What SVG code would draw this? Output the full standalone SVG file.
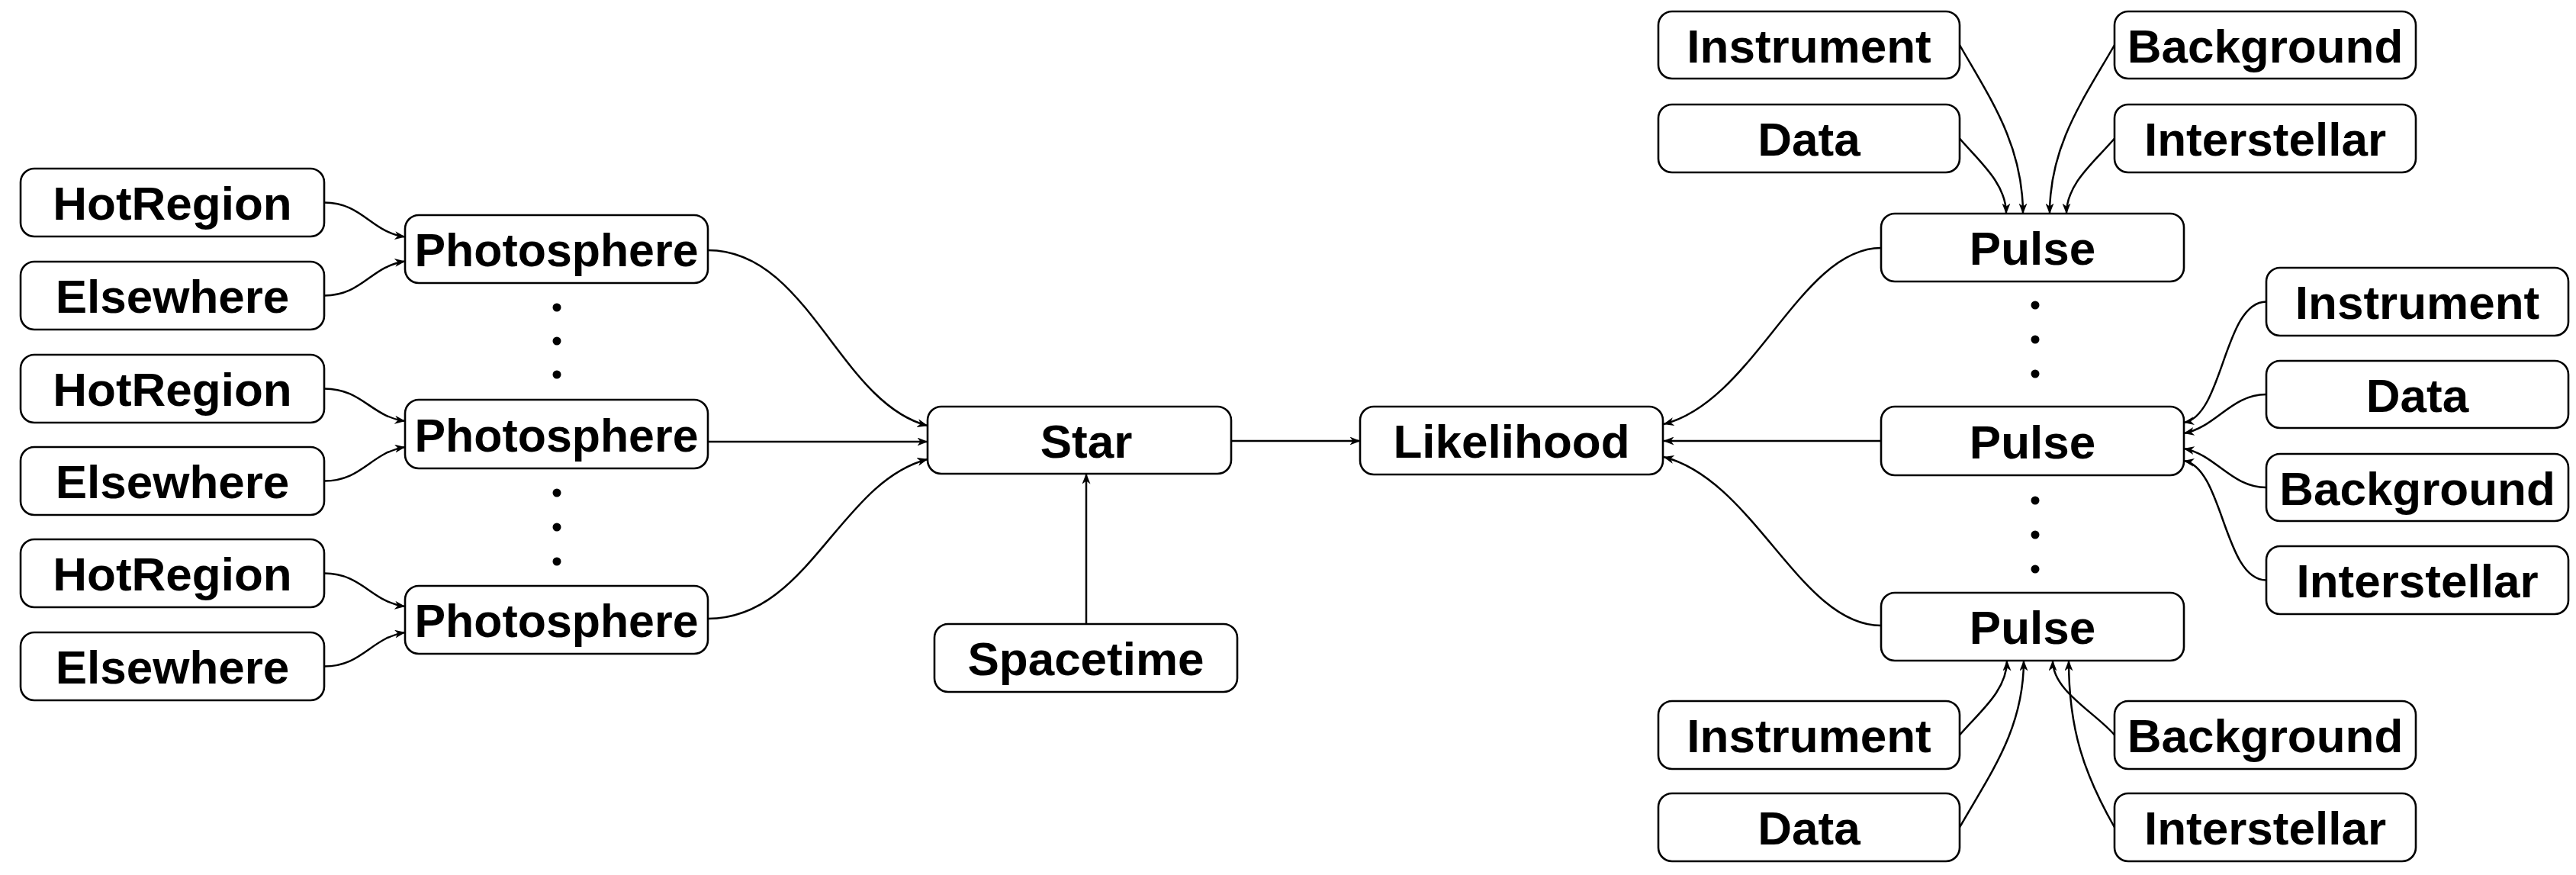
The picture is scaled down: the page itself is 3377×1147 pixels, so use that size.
<svg xmlns="http://www.w3.org/2000/svg" width="3377" height="1147" viewBox="0 0 3377 1147">
<defs>
<style>
.box{fill:#fff;stroke:#000;stroke-width:2.6}
.lbl{font-family:"Liberation Sans",Arial,Helvetica,sans-serif;font-weight:bold;font-size:62px;fill:#000;text-anchor:middle}
.c{fill:none;stroke:#000;stroke-width:2.5;marker-end:url(#arr)}
.dot{fill:#000}
</style>
<marker id="arr" markerUnits="userSpaceOnUse" viewBox="0 0 14 11" markerWidth="14" markerHeight="11" refX="13.5" refY="5.5" orient="auto">
<path d="M0,0 L14,5.5 L0,11 L4,5.5 z" fill="#000"/>
</marker>
</defs>
<rect width="3377" height="1147" fill="#fff"/>
<g id="connectors">
<path class="c" d="M425,265.5 C475,265.5 486,304 531,310.5"/>
<path class="c" d="M425,387.5 C475,387.5 486,349 531,342.5"/>
<path class="c" d="M425,509.5 C475,509.5 486,546 531,552"/>
<path class="c" d="M425,630.5 C475,630.5 486,593 531,586"/>
<path class="c" d="M425,751.5 C475,751.5 486,789 531,795"/>
<path class="c" d="M425,873.5 C475,873.5 486,836 531,829"/>
<path class="c" d="M928,328 C1060,328 1100,528 1216,558"/>
<path class="c" d="M928,579 L1216,579"/>
<path class="c" d="M928,811 C1060,811 1100,632 1216,602"/>
<path class="c" d="M1424,818 L1424,621"/>
<path class="c" d="M1614,578 L1783,578"/>
<path class="c" d="M2466,325 C2360,325 2300,526 2181,556"/>
<path class="c" d="M2466,578 L2181,578"/>
<path class="c" d="M2466,820 C2360,820 2300,629 2181,599"/>
<path class="c" d="M2569,59 C2609,129 2652,190 2652,280"/>
<path class="c" d="M2569,181.5 C2594,211 2630,240 2630,280"/>
<path class="c" d="M2772,59 C2732,129 2687,190 2687,280"/>
<path class="c" d="M2772,181.5 C2747,211 2709,240 2709,280"/>
<path class="c" d="M2971,395.5 C2915,395.5 2915,545 2863,554"/>
<path class="c" d="M2971,517 C2925,517 2905,560 2863,568"/>
<path class="c" d="M2971,639 C2925,639 2905,596 2863,588"/>
<path class="c" d="M2971,760.5 C2915,760.5 2915,613 2863,604"/>
<path class="c" d="M2569,963.5 C2594,934 2631,906 2631,866"/>
<path class="c" d="M2569,1084.5 C2609,1014 2653,956 2653,866"/>
<path class="c" d="M2772,963.5 C2747,934 2691,906 2691,866"/>
<path class="c" d="M2772,1084.5 C2732,1014 2712,956 2712,866"/>
</g>
<g id="dots">
<circle class="dot" cx="730" cy="403" r="5.5"/>
<circle class="dot" cx="730" cy="447" r="5.5"/>
<circle class="dot" cx="730" cy="491" r="5.5"/>
<circle class="dot" cx="730" cy="646" r="5.5"/>
<circle class="dot" cx="730" cy="691" r="5.5"/>
<circle class="dot" cx="730" cy="736" r="5.5"/>
<circle class="dot" cx="2668" cy="400" r="5.5"/>
<circle class="dot" cx="2668" cy="445" r="5.5"/>
<circle class="dot" cx="2668" cy="490" r="5.5"/>
<circle class="dot" cx="2668" cy="656" r="5.5"/>
<circle class="dot" cx="2668" cy="701" r="5.5"/>
<circle class="dot" cx="2668" cy="746" r="5.5"/>
</g>
<g id="hotregion1"><rect class="box" x="27" y="221" width="398" height="89" rx="18"/><text class="lbl" x="226" y="288">HotRegion</text></g>
<g id="elsewhere1"><rect class="box" x="27" y="343" width="398" height="89" rx="18"/><text class="lbl" x="226" y="410">Elsewhere</text></g>
<g id="hotregion2"><rect class="box" x="27" y="465" width="398" height="89" rx="18"/><text class="lbl" x="226" y="532">HotRegion</text></g>
<g id="elsewhere2"><rect class="box" x="27" y="586" width="398" height="89" rx="18"/><text class="lbl" x="226" y="653">Elsewhere</text></g>
<g id="hotregion3"><rect class="box" x="27" y="707" width="398" height="89" rx="18"/><text class="lbl" x="226" y="774">HotRegion</text></g>
<g id="elsewhere3"><rect class="box" x="27" y="829" width="398" height="89" rx="18"/><text class="lbl" x="226" y="896">Elsewhere</text></g>
<g id="photosphere1"><rect class="box" x="531" y="282" width="397" height="89" rx="18"/><text class="lbl" x="729.5" y="349" textLength="372" lengthAdjust="spacingAndGlyphs">Photosphere</text></g>
<g id="photosphere2"><rect class="box" x="531" y="524" width="397" height="90" rx="18"/><text class="lbl" x="729.5" y="591.5" textLength="372" lengthAdjust="spacingAndGlyphs">Photosphere</text></g>
<g id="photosphere3"><rect class="box" x="531" y="768" width="397" height="89" rx="18"/><text class="lbl" x="729.5" y="835" textLength="372" lengthAdjust="spacingAndGlyphs">Photosphere</text></g>
<g id="star"><rect class="box" x="1216" y="533" width="398" height="88" rx="18"/><text class="lbl" x="1424" y="599.5">Star</text></g>
<g id="spacetime"><rect class="box" x="1225" y="818" width="397" height="89" rx="18"/><text class="lbl" x="1423.5" y="885">Spacetime</text></g>
<g id="likelihood"><rect class="box" x="1783" y="533" width="397" height="89" rx="18"/><text class="lbl" x="1981.5" y="600">Likelihood</text></g>
<g id="pulse1"><rect class="box" x="2466" y="280" width="397" height="89" rx="18"/><text class="lbl" x="2664.5" y="347">Pulse</text></g>
<g id="pulse2"><rect class="box" x="2466" y="533" width="397" height="90" rx="18"/><text class="lbl" x="2664.5" y="600.5">Pulse</text></g>
<g id="pulse3"><rect class="box" x="2466" y="777" width="397" height="89" rx="18"/><text class="lbl" x="2664.5" y="844">Pulse</text></g>
<g id="instrument_top"><rect class="box" x="2174" y="15" width="395" height="88" rx="18"/><text class="lbl" x="2371.5" y="81.5">Instrument</text></g>
<g id="data_top"><rect class="box" x="2174" y="137" width="395" height="89" rx="18"/><text class="lbl" x="2371.5" y="204">Data</text></g>
<g id="background_top"><rect class="box" x="2772" y="15" width="395" height="88" rx="18"/><text class="lbl" x="2969.5" y="81.5">Background</text></g>
<g id="interstellar_top"><rect class="box" x="2772" y="137" width="395" height="89" rx="18"/><text class="lbl" x="2969.5" y="204">Interstellar</text></g>
<g id="instrument_right"><rect class="box" x="2971" y="351" width="396" height="89" rx="18"/><text class="lbl" x="3169" y="418">Instrument</text></g>
<g id="data_right"><rect class="box" x="2971" y="473" width="396" height="88" rx="18"/><text class="lbl" x="3169" y="539.5">Data</text></g>
<g id="background_right"><rect class="box" x="2971" y="595" width="396" height="88" rx="18"/><text class="lbl" x="3169" y="661.5">Background</text></g>
<g id="interstellar_right"><rect class="box" x="2971" y="716" width="396" height="89" rx="18"/><text class="lbl" x="3169" y="783">Interstellar</text></g>
<g id="instrument_bottom"><rect class="box" x="2174" y="919" width="395" height="89" rx="18"/><text class="lbl" x="2371.5" y="986">Instrument</text></g>
<g id="data_bottom"><rect class="box" x="2174" y="1040" width="395" height="89" rx="18"/><text class="lbl" x="2371.5" y="1107">Data</text></g>
<g id="background_bottom"><rect class="box" x="2772" y="919" width="395" height="89" rx="18"/><text class="lbl" x="2969.5" y="986">Background</text></g>
<g id="interstellar_bottom"><rect class="box" x="2772" y="1040" width="395" height="89" rx="18"/><text class="lbl" x="2969.5" y="1107">Interstellar</text></g>
</svg>
